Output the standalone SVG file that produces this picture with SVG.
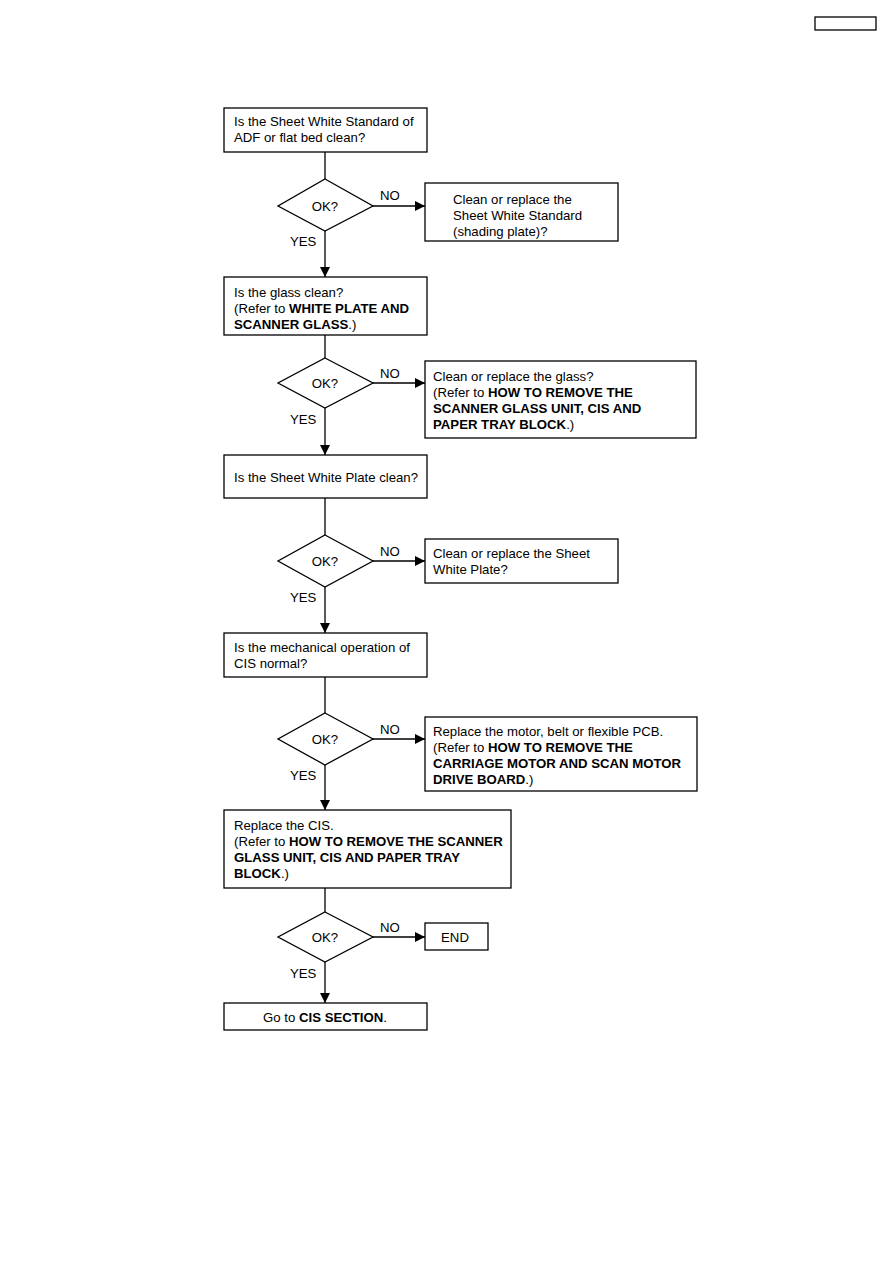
<svg xmlns="http://www.w3.org/2000/svg" width="893" height="1263" viewBox="0 0 893 1263">
<style>
.box{fill:#fff;stroke:#000;stroke-width:1.3}
.ln{fill:none;stroke:#000;stroke-width:1.3}
text{font-family:"Liberation Sans",Arial,sans-serif;font-size:13.2px;fill:#000}
.b{font-weight:bold}
.c{text-anchor:middle}
</style>
<defs>
<marker id="ah" viewBox="0 0 10 10" refX="10" refY="5" markerWidth="10" markerHeight="10" markerUnits="userSpaceOnUse" orient="auto">
<path d="M0,0 L10,5 L0,10 z" fill="#000"/>
</marker>
</defs>
<rect x="815" y="17" width="61" height="13" fill="#fff" stroke="#000" stroke-width="1.3"/>
<g id="connectors">
<path class="ln" d="M325,152 V179"/>
<path class="ln" d="M373,206 H425" marker-end="url(#ah)"/>
<path class="ln" d="M325,231 V277" marker-end="url(#ah)"/>
<path class="ln" d="M325,335 V358"/>
<path class="ln" d="M373,383 H425" marker-end="url(#ah)"/>
<path class="ln" d="M325,408 V455" marker-end="url(#ah)"/>
<path class="ln" d="M325,498 V535"/>
<path class="ln" d="M373,561 H425" marker-end="url(#ah)"/>
<path class="ln" d="M325,587 V633" marker-end="url(#ah)"/>
<path class="ln" d="M325,677 V713"/>
<path class="ln" d="M373,739 H425" marker-end="url(#ah)"/>
<path class="ln" d="M325,765 V810" marker-end="url(#ah)"/>
<path class="ln" d="M325,888 V912"/>
<path class="ln" d="M373,937 H425" marker-end="url(#ah)"/>
<path class="ln" d="M325,962 V1003" marker-end="url(#ah)"/>
<text x="380" y="200">NO</text>
<text x="290" y="246">YES</text>
<text x="380" y="378">NO</text>
<text x="290" y="424">YES</text>
<text x="380" y="556">NO</text>
<text x="290" y="602">YES</text>
<text x="380" y="734">NO</text>
<text x="290" y="780">YES</text>
<text x="380" y="932">NO</text>
<text x="290" y="978">YES</text>
</g>
<g id="n1"><rect class="box" x="224" y="108" width="203" height="44"/>
<text x="234" y="126">Is the Sheet White Standard of</text>
<text x="234" y="142">ADF or flat bed clean?</text></g>
<g id="d1"><polygon class="box" points="325,179 373,206 325,231 278,206"/><text class="c" x="325" y="211">OK?</text></g>
<g id="n2"><rect class="box" x="425" y="183" width="193" height="58"/>
<text x="453" y="204">Clean or replace the</text>
<text x="453" y="220">Sheet White Standard</text>
<text x="453" y="236">(shading plate)?</text></g>
<g id="n3"><rect class="box" x="224" y="277" width="203" height="58"/>
<text x="234" y="297">Is the glass clean?</text>
<text x="234" y="313">(Refer to <tspan class="b">WHITE PLATE AND</tspan></text>
<text x="234" y="329"><tspan class="b">SCANNER GLASS</tspan>.)</text></g>
<g id="d2"><polygon class="box" points="325,358 373,383 325,408 278,383"/><text class="c" x="325" y="388">OK?</text></g>
<g id="n4"><rect class="box" x="425" y="361" width="271" height="77"/>
<text x="433" y="381">Clean or replace the glass?</text>
<text x="433" y="397">(Refer to <tspan class="b">HOW TO REMOVE THE</tspan></text>
<text x="433" y="413" class="b">SCANNER GLASS UNIT, CIS AND</text>
<text x="433" y="429"><tspan class="b">PAPER TRAY BLOCK</tspan>.)</text></g>
<g id="n5"><rect class="box" x="224" y="455" width="203" height="43"/>
<text x="234" y="482">Is the Sheet White Plate clean?</text></g>
<g id="d3"><polygon class="box" points="325,535 373,561 325,587 278,561"/><text class="c" x="325" y="566">OK?</text></g>
<g id="n6"><rect class="box" x="425" y="539" width="193" height="44"/>
<text x="433" y="558">Clean or replace the Sheet</text>
<text x="433" y="574">White Plate?</text></g>
<g id="n7"><rect class="box" x="224" y="633" width="203" height="44"/>
<text x="234" y="652">Is the mechanical operation of</text>
<text x="234" y="668">CIS normal?</text></g>
<g id="d4"><polygon class="box" points="325,713 373,739 325,765 278,739"/><text class="c" x="325" y="744">OK?</text></g>
<g id="n8"><rect class="box" x="425" y="717" width="272" height="74"/>
<text x="433" y="736">Replace the motor, belt or flexible PCB.</text>
<text x="433" y="752">(Refer to <tspan class="b">HOW TO REMOVE THE</tspan></text>
<text x="433" y="768" class="b">CARRIAGE MOTOR AND SCAN MOTOR</text>
<text x="433" y="784"><tspan class="b">DRIVE BOARD</tspan>.)</text></g>
<g id="n9"><rect class="box" x="224" y="810" width="287" height="78"/>
<text x="234" y="830">Replace the CIS.</text>
<text x="234" y="846">(Refer to <tspan class="b">HOW TO REMOVE THE SCANNER</tspan></text>
<text x="234" y="862" class="b">GLASS UNIT, CIS AND PAPER TRAY</text>
<text x="234" y="878"><tspan class="b">BLOCK</tspan>.)</text></g>
<g id="d5"><polygon class="box" points="325,912 373,937 325,962 278,937"/><text class="c" x="325" y="942">OK?</text></g>
<g id="n10"><rect class="box" x="425" y="923" width="63" height="27"/>
<text class="c" x="455" y="942">END</text></g>
<g id="n11"><rect class="box" x="224" y="1003" width="203" height="27"/>
<text class="c" x="325" y="1022">Go to <tspan class="b">CIS SECTION</tspan>.</text></g>
</svg>
